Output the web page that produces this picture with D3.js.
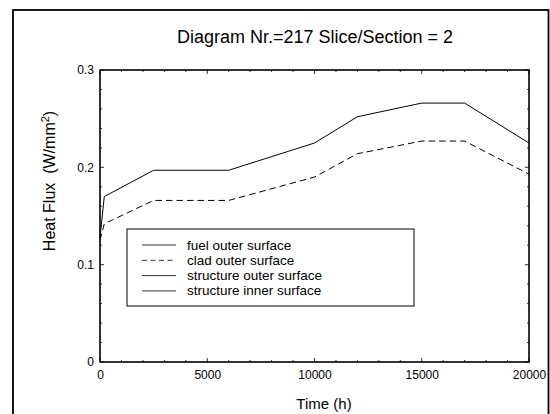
<!DOCTYPE html>
<html><head><meta charset="utf-8">
<script src="https://cdn.jsdelivr.net/npm/d3@7"></script>
<style>body{margin:0;background:#fff}svg{display:block}text{font-family:"Liberation Sans",Arial,sans-serif;fill:#000;white-space:pre}</style>
</head><body>
<script>
const fuelTime  = [0, 200, 2500, 6000, 10000, 12000, 15000, 17000, 20000];
const fuelFlux  = [0.128, 0.170, 0.197, 0.197, 0.225, 0.252, 0.266, 0.266, 0.225];
const cladTime  = [0, 200, 2500, 6000, 10000, 12000, 15000, 17000, 20000];
const cladFlux  = [0.125, 0.142, 0.166, 0.166, 0.190, 0.214, 0.227, 0.227, 0.193];
const legendLabels = ["fuel outer surface", "clad outer surface", "structure outer surface", "structure inner surface"];
const legendDash = ["none", "5,3.5", "none", "none"];
const xTicks = [0, 5000, 10000, 15000, 20000];
const yTicks = [0, 0.1, 0.2, 0.3];
const titleText = "Diagram Nr.=217 Slice/Section = 2";

const W = 550, H = 414;
const m = {l:100, r:529, t:70, b:362};
const FONT = "Liberation Sans, Arial, sans-serif";
const svg = d3.select("body").append("svg").attr("width", W).attr("height", H);

svg.append("rect").attr("x",13).attr("y",10).attr("width",535.5).attr("height",H+20)
  .attr("fill","none").attr("stroke","#000").attr("stroke-width",1.8);

const x = d3.scaleLinear().domain([0,20000]).range([m.l, m.r]);
const y = d3.scaleLinear().domain([0,0.3]).range([m.b, m.t]);

const g = svg.append("g");
const xMinor = d3.range(0, 20001, 1000);
const yMinor = d3.range(0, 0.3001, 0.02);
xMinor.forEach(v => {
  const len = xTicks.includes(v) ? 4 : 2;
  g.append("line").attr("x1",x(v)).attr("x2",x(v)).attr("y1",m.b).attr("y2",m.b-len).attr("stroke","#000").attr("stroke-width",0.8);
  g.append("line").attr("x1",x(v)).attr("x2",x(v)).attr("y1",m.t).attr("y2",m.t+len).attr("stroke","#000").attr("stroke-width",0.8);
});
yMinor.forEach(v => {
  const major = yTicks.some(t => Math.abs(t-v)<1e-9);
  const len = major ? 4 : 2;
  g.append("line").attr("x1",m.l).attr("x2",m.l+len).attr("y1",y(v)).attr("y2",y(v)).attr("stroke","#000").attr("stroke-width",0.8);
  g.append("line").attr("x1",m.r).attr("x2",m.r-len).attr("y1",y(v)).attr("y2",y(v)).attr("stroke","#000").attr("stroke-width",0.8);
});

const xAxis = d3.axisBottom(x).tickValues(xTicks).tickSize(0).tickPadding(8).tickFormat(d3.format("d"));
const yAxis = d3.axisLeft(y).tickValues(yTicks).tickSize(0).tickPadding(6).tickFormat(d => d===0 ? "0" : d3.format(".1f")(d));
const gx = svg.append("g").attr("transform",`translate(0,${m.b})`).call(xAxis);
const gy = svg.append("g").attr("transform",`translate(${m.l},0)`).call(yAxis);
[gx, gy].forEach(a => { a.select(".domain").remove(); a.selectAll("text").attr("font-size",12).attr("font-family",FONT); });

svg.append("rect").attr("x",m.l).attr("y",m.t).attr("width",m.r-m.l).attr("height",m.b-m.t)
  .attr("fill","none").attr("stroke","#000").attr("stroke-width",1.6);

const line = d3.line().x(d => x(d[0])).y(d => y(d[1]));
svg.append("path").datum(fuelTime.map((t,i)=>[t,fuelFlux[i]])).attr("d",line)
  .attr("fill","none").attr("stroke","#000").attr("stroke-width",1);
svg.append("path").datum(cladTime.map((t,i)=>[t,cladFlux[i]])).attr("d",line)
  .attr("fill","none").attr("stroke","#000").attr("stroke-width",1).attr("stroke-dasharray","6.5,4");

const lg = svg.append("g");
lg.append("rect").attr("x",127).attr("y",229).attr("width",287).attr("height",77)
  .attr("fill","#fff").attr("stroke","#000").attr("stroke-width",1);
legendLabels.forEach((lab,i) => {
  const yy = 245 + i*15.3;
  lg.append("line").attr("x1",142).attr("x2",176).attr("y1",yy).attr("y2",yy)
    .attr("stroke","#333").attr("stroke-width",1).attr("stroke-dasharray",legendDash[i]==="none"?null:legendDash[i]);
  lg.append("text").attr("x",187).attr("y",yy+4.5).attr("font-size",13.5).text(lab);
});

svg.append("text").attr("x",315).attr("y",43).attr("text-anchor","middle").attr("font-size",18).text(titleText);
svg.append("text").attr("x",324).attr("y",409).attr("text-anchor","middle").attr("font-size",15).text("Time (h)");
const yl = svg.append("text").attr("transform","translate(55,181) rotate(-90)").attr("text-anchor","middle").attr("font-size",16).attr("xml:space","preserve");
yl.append("tspan").text("Heat Flux  (W/mm");
yl.append("tspan").attr("dy",-6).attr("font-size",11).text("2");
yl.append("tspan").attr("dy",6).text(")");
</script>
</body></html>
